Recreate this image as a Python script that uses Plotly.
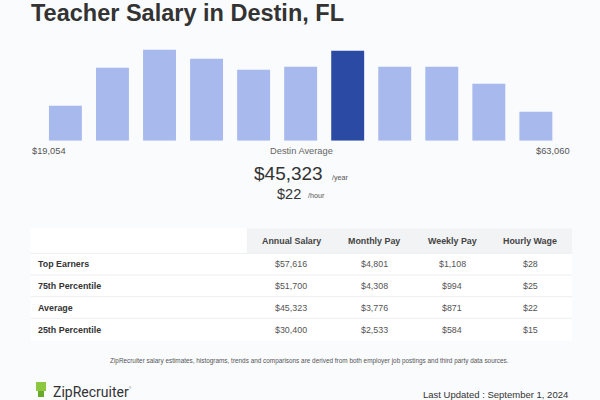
import plotly.graph_objects as go

# ---- data ----
bar_values = [35, 73, 91, 82, 71, 74, 90, 74, 74, 57, 29]
highlight_index = 6
range_min_label = "$19,054"
range_max_label = "$63,060"
avg_annual = "$45,323"
avg_hourly = "$22"
table_columns = ["Annual Salary", "Monthly Pay", "Weekly Pay", "Hourly Wage"]
row_labels = ["Top Earners", "75th Percentile", "Average", "25th Percentile"]
annual = ["$57,616", "$51,700", "$45,323", "$30,400"]
monthly = ["$4,801", "$4,308", "$3,776", "$2,533"]
weekly = ["$1,108", "$994", "$871", "$584"]
hourly = ["$28", "$25", "$22", "$15"]

W, H = 600, 400
BG = "#f9fbfd"
LIGHT = "#a8b9ee"
DARK = "#2a4aa3"


def px(x):
    return x / W


def py(y):
    return 1 - y / H


colors = [DARK if i == highlight_index else LIGHT for i in range(len(bar_values))]

fig = go.Figure(go.Bar(
    x=list(range(len(bar_values))), y=bar_values,
    marker=dict(color=colors, line=dict(width=0)),
    hoverinfo="skip",
))

annotations = []
shapes = []
SANS = "Liberation Sans, Arial, sans-serif"


def text(x, y, s, size, color="#333", xanchor="center", bold=False, family=SANS):
    annotations.append(dict(
        x=px(x), y=py(y), xref="paper", yref="paper", text=(f"<b>{s}</b>" if bold else s),
        showarrow=False, xanchor=xanchor, yanchor="middle",
        font=dict(size=size, color=color, family=family),
    ))


# title
text(29, 13, "Teacher Salary in Destin, FL", 23.5, "#333333", xanchor="left", bold=True)

# range labels
text(30, 151, range_min_label, 9.3, "#555", xanchor="left")
text(301, 151, "Destin Average", 9.3, "#666")
text(572, 151, range_max_label, 9.3, "#555", xanchor="right")

# average
text(325, 173.5, avg_annual, 19, "#333", xanchor="right")
text(329.5, 177, "/year", 7.2, "#555", xanchor="left")
text(302.5, 194, avg_hourly, 14.5, "#333", xanchor="right")
text(306, 195.5, "/hour", 7.2, "#555", xanchor="left")

# table
TL, TR = 30.6, 572
shapes.append(dict(type="rect", xref="paper", yref="paper", x0=px(TL), x1=px(TR),
                   y0=py(340.7), y1=py(228.3), fillcolor="#ffffff", line=dict(width=0), layer="below"))
shapes.append(dict(type="rect", xref="paper", yref="paper", x0=px(246.8), x1=px(TR),
                   y0=py(253.3), y1=py(228.3), fillcolor="#f2f3f5", line=dict(width=0), layer="below"))
col_x = [291, 374.3, 452.4, 530.4]
for cx, c in zip(col_x, table_columns):
    text(cx, 241, c, 8.9, "#444", bold=True)
row_tops = [253.3, 275, 296.7, 318.3, 340.7]
cols = [annual, monthly, weekly, hourly]
for i, lab in enumerate(row_labels):
    yc = (row_tops[i] + row_tops[i + 1]) / 2
    shapes.append(dict(type="line", xref="paper", yref="paper", x0=px(TL), x1=px(TR),
                       y0=py(row_tops[i]), y1=py(row_tops[i]), line=dict(color="#eceef1", width=1)))
    text(36.4, yc, lab, 8.9, "#333", xanchor="left", bold=True)
    for cx, col in zip(col_x, cols):
        text(cx, yc, col[i], 8.9, "#555")

# footer
text(309, 361, "ZipRecruiter salary estimates, histograms, trends and comparisons are derived from both employer job postings and third party data sources.",
     6.4, "#555")
text(51, 392, "ZipRecruiter", 14, "#333", xanchor="left", family="Roboto, Arial, sans-serif")
text(127, 388, "®", 3, "#555", xanchor="left")
text(569.5, 394, "Last Updated : September 1, 2024", 9.5, "#333", xanchor="right")

# logo icon (chair)
shapes.append(dict(type="rect", xref="paper", yref="paper", x0=px(36), x1=px(46),
                   y0=py(391), y1=py(382), fillcolor="#8dc63f", line=dict(width=0)))
shapes.append(dict(type="rect", xref="paper", yref="paper", x0=px(38), x1=px(44),
                   y0=py(397), y1=py(391), fillcolor="#6aaa2a", line=dict(width=0)))

fig.update_layout(
    width=W, height=H, margin=dict(l=0, r=0, t=0, b=0),
    paper_bgcolor=BG, plot_bgcolor="rgba(0,0,0,0)",
    showlegend=False, bargap=0.30,
    xaxis=dict(domain=[px(41.9), px(559.4)], range=[-0.5, 10.5], visible=False, fixedrange=True),
    yaxis=dict(domain=[py(140.7), py(40.7)], range=[0, 100], visible=False, fixedrange=True),
    annotations=annotations, shapes=shapes,
)

fig.write_html("out.html", config={"displayModeBar": False},
               post_script="document.body.style.margin='0';document.body.style.overflow='hidden';")
